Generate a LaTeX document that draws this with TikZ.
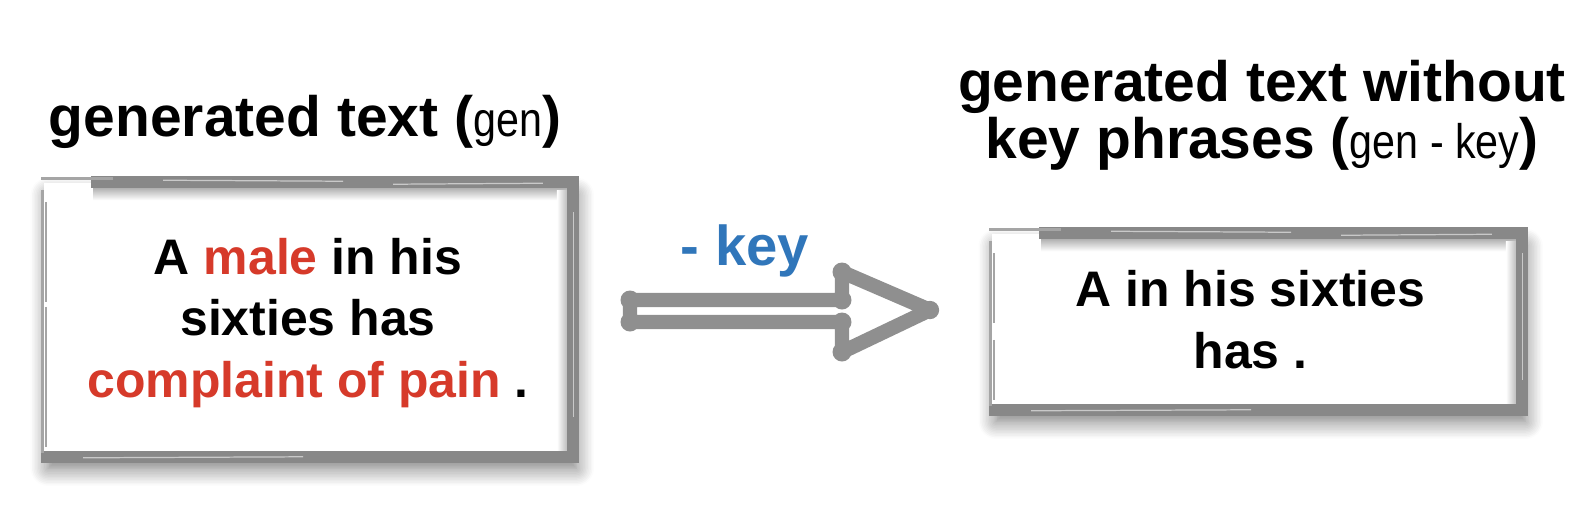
\documentclass[tikz,border=0pt]{standalone}
\usepackage{fontspec}
\setmainfont{Liberation Sans}
\newfontfamily\gencond[FakeStretch=0.85]{Liberation Sans}
\usetikzlibrary{calc,shadows.blur}
\definecolor{fgray}{RGB}{136,136,136}
\definecolor{lgray}{RGB}{165,165,165}
\definecolor{agray}{RGB}{143,143,143}
\definecolor{kred}{RGB}{214,58,42}
\definecolor{kblue}{RGB}{48,118,186}
\tikzset{
  titletext/.style={font=\fontsize{16.2}{16.3}\selectfont\bfseries, align=center, inner sep=0pt},
  bodytext/.style={font=\fontsize{14.2}{17.6}\selectfont\bfseries, align=center, inner sep=0pt},
  keytext/.style={font=\fontsize{16}{18}\selectfont\bfseries, text=kblue, inner sep=0pt},
  framebox/.style={draw=none, fill=white, inner sep=0pt,
    blur shadow={shadow xshift=1.2pt, shadow yshift=-3.5pt, shadow blur steps=12, shadow blur radius=5pt, shadow opacity=55}},
  brush/.style={draw=fgray, line width=3.4pt, line join=miter},
  thinbrush/.style={draw=lgray, line width=0.9pt},
  streak/.style={draw=white, line width=0.35pt, opacity=0.55},
  topshade/.style={top color=black!35, bottom color=white, draw=none},
  rightshade/.style={left color=white, right color=black!28, draw=none},
  bigarrow/.style={draw=agray, line width=4.1pt, line join=round, line cap=round},
  bone/.style={fill=agray},
}
\newcommand{\gensmall}[1]{{\fontsize{13.8}{14}\selectfont\gencond\mdseries #1}}
\begin{document}
\begin{tikzpicture}[x=0.01cm,y=-0.01cm]
\useasboundingbox (0,0) rectangle (1584,526);

% ---------- left box ----------
\node[titletext, anchor=base] (title1) at (305,136) {generated text (\gensmall{gen})};
\node[framebox, minimum width=5.28cm, minimum height=2.73cm] (box1) at (308,319.5) {};
\shade[topshade] ($(box1.north west)+(50,4)$) rectangle ($(box1.north east)+(-6,18)$);
\shade[rightshade] ($(box1.north east)+(-16,8)$) rectangle ($(box1.south east)+(-5,-6)$);
\draw[brush] ($(box1.north west)+(48,0)$) -- (box1.north east) -- (box1.south east) -- ($(box1.south west)+(-2,0)$);
\draw[thinbrush] ($(box1.north west)+(-2,-4)$) -- ($(box1.north west)+(70,-4)$);
\draw[thinbrush] ($(box1.north west)+(-1,8)$) -- ($(box1.south west)+(-1,-4)$);
\draw[thinbrush, line width=0.5pt] ($(box1.north west)+(3,20)$) -- ($(box1.north west)+(3,120)$);
\draw[thinbrush, line width=0.5pt] ($(box1.south west)+(3,-150)$) -- ($(box1.south west)+(3,-10)$);
\draw[streak] ($(box1.north west)+(120,-2)$) -- ($(box1.north west)+(300,-1)$);
\draw[streak] ($(box1.north west)+(350,2)$) -- ($(box1.north east)+(-30,1)$);
\draw[streak] ($(box1.south west)+(40,1)$) -- ($(box1.south west)+(260,0)$);
\draw[streak] ($(box1.north east)+(1,30)$) -- ($(box1.south east)+(1,-40)$);
\node[bodytext] (text1) at ($(box1.center)+(0,3.5)$)
  {A \textcolor{kred}{male} in his\\ sixties has\\ \textcolor{kred}{complaint of pain} .};

% ---------- right box ----------
\node[titletext] (title2) at (1262,115.5) {generated text without\\ key phrases (\gensmall{gen - key})};
\node[framebox, minimum width=5.29cm, minimum height=1.75cm] (box2) at (1256.5,321.5) {};
\shade[topshade] ($(box2.north west)+(50,4)$) rectangle ($(box2.north east)+(-6,18)$);
\shade[rightshade] ($(box2.north east)+(-16,8)$) rectangle ($(box2.south east)+(-5,-6)$);
\draw[brush] ($(box2.north west)+(48,0)$) -- (box2.north east) -- (box2.south east) -- ($(box2.south west)+(-2,0)$);
\draw[thinbrush] ($(box2.north west)+(-2,-4)$) -- ($(box2.north west)+(70,-4)$);
\draw[thinbrush] ($(box2.north west)+(-1,8)$) -- ($(box2.south west)+(-1,-4)$);
\draw[thinbrush, line width=0.5pt] ($(box2.north west)+(3,20)$) -- ($(box2.north west)+(3,90)$);
\draw[thinbrush, line width=0.5pt] ($(box2.south west)+(3,-70)$) -- ($(box2.south west)+(3,-10)$);
\draw[streak] ($(box2.north west)+(120,-2)$) -- ($(box2.north west)+(300,-1)$);
\draw[streak] ($(box2.north west)+(350,2)$) -- ($(box2.north east)+(-30,1)$);
\draw[streak] ($(box2.south west)+(40,1)$) -- ($(box2.south west)+(260,0)$);
\draw[streak] ($(box2.north east)+(1,20)$) -- ($(box2.south east)+(1,-30)$);
\node[bodytext] (text2) at ($(box2.center)+(-6,-1.5)$) {A in his sixties\\ has .};

% ---------- arrow ----------
\coordinate (atail) at (630,311);
\coordinate (atip) at (930,310);
\node[keytext, anchor=base] (key) at (745,265) {- key};
\draw[bigarrow] ($(atail)+(0,-11)$) -- ($(atail)+(212,-11)$) -- ($(atail)+(212,-39)$) -- (atip)
  -- ($(atail)+(212,41)$) -- ($(atail)+(212,11)$) -- ($(atail)+(0,11)$) -- cycle;
\foreach \dx/\dy in {0/-11,0/11,212/-11,212/-39,212/11,212/41}
  \fill[bone] ($(atail)+(\dx,\dy)$) circle[radius=2.7pt];
\fill[bone] (atip) circle[radius=2.6pt];
\end{tikzpicture}
\end{document}
